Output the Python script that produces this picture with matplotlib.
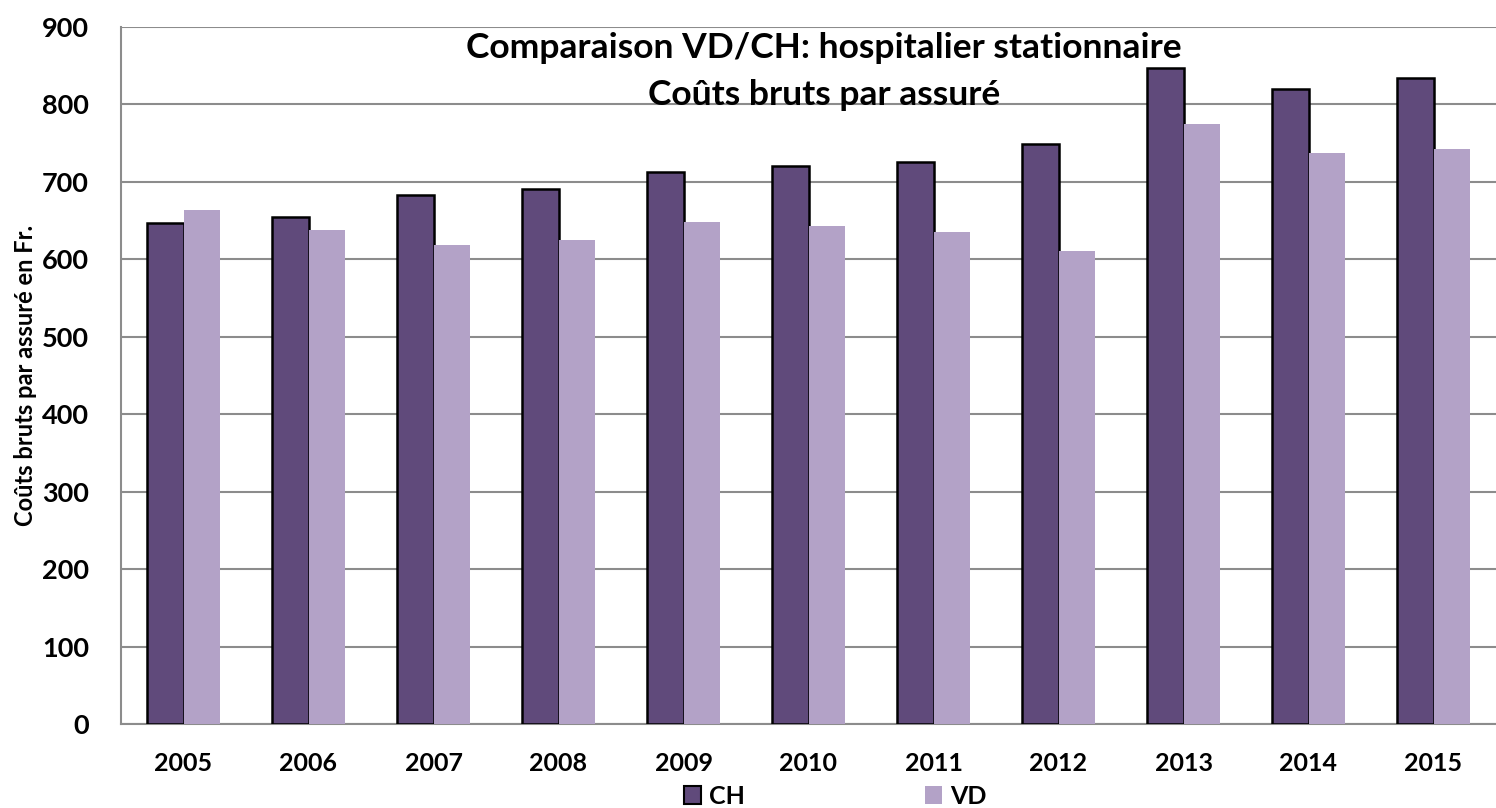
import numpy as np
import matplotlib.pyplot as plt
from matplotlib.patches import Patch

plt.rcParams['font.family'] = ['Lato', 'DejaVu Sans']
plt.rcParams['font.weight'] = 'bold'

years = ['2005', '2006', '2007', '2008', '2009', '2010', '2011', '2012', '2013', '2014', '2015']
ch_vals = [647, 655, 683, 690, 713, 720, 725, 749, 847, 819, 834]
vd_vals = [663, 638, 618, 625, 648, 643, 635, 610, 774, 737, 742]

col_ch = '#604A7B'
col_vd = '#B3A2C7'
grid_col = '#8C8C8C'

fig = plt.figure(figsize=(14.96, 8.08), dpi=100)
ax = fig.add_axes([121/1496, 1-724/808, 1-121/1496, (724-26.7)/808])

x = np.arange(len(years))
w = 0.29
ax.bar(x - w/2, ch_vals, width=w, color=col_ch, edgecolor='black', linewidth=1.8, zorder=3)
ax.bar(x + w/2, vd_vals, width=w, color=col_vd, linewidth=0, zorder=3)

ax.set_xlim(-0.5, len(years) - 0.5)
ax.set_ylim(0, 900)
ax.set_yticks(np.arange(0, 1000, 100))
ax.set_xticks(x)
ax.set_xticklabels(years)
ax.yaxis.grid(True, color=grid_col, linewidth=1.5, zorder=0)
ax.set_axisbelow(True)
for s in ['top', 'right']:
    ax.spines[s].set_visible(False)
for s in ['left', 'bottom']:
    ax.spines[s].set_color(grid_col)
    ax.spines[s].set_linewidth(1.5)
ax.tick_params(axis='both', length=0)
ax.tick_params(axis='x', labelsize=18, pad=20)
ax.tick_params(axis='y', labelsize=19.5, pad=23)

# y label placed by hand, like the original
fig.text(26/1496, 1-375/808, 'Coûts bruts par assuré en Fr.', rotation=90,
         ha='center', va='center', fontsize=17, fontweight='bold')

# two title lines
fig.text(824/1496, 1-48/808, 'Comparaison VD/CH: hospitalier stationnaire',
         ha='center', va='center', fontsize=25.5, fontweight='bold')
fig.text(824/1496, 1-95/808, 'Coûts bruts par assuré',
         ha='center', va='center', fontsize=25.5, fontweight='bold')

handles = [Patch(facecolor=col_ch, edgecolor='black', linewidth=1.5, label='CH'),
           Patch(facecolor=col_vd, edgecolor='none', label='VD')]
fig.legend(handles=handles, loc='center', bbox_to_anchor=(835/1496, 1-796/808), ncol=2,
           frameon=False, fontsize=18, handlelength=0.7, handleheight=0.75,
           handletextpad=0.3, columnspacing=7.2, borderaxespad=0, borderpad=0)

fig.savefig('out.png', dpi=100)
